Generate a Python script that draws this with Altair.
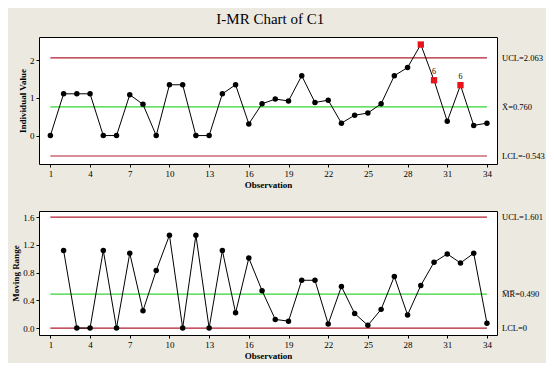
import altair as alt
import pandas as pd

# ---- data ----
observation = list(range(1, 35))
individual = [0.00, 1.11, 1.11, 1.11, 0.00, 0.00, 1.085, 0.83, 0.00, 1.35,
              1.35, 0.00, 0.00, 1.11, 1.35, 0.31, 0.845, 0.97, 0.92, 1.59,
              0.88, 0.94, 0.33, 0.54, 0.60, 0.845, 1.59, 1.81, 2.42, 1.47,
              0.38, 1.34, 0.27, 0.33]
flagged = [29, 30, 32]
flag_labels = {30: "6", 32: "6"}
moving_range = [None, 1.12, 0.00, 0.00, 1.12, 0.00, 1.08, 0.25, 0.83, 1.34,
                0.00, 1.34, 0.00, 1.12, 0.22, 1.01, 0.54, 0.125, 0.10, 0.69,
                0.69, 0.06, 0.60, 0.21, 0.04, 0.27, 0.745, 0.19, 0.615, 0.95,
                1.07, 0.94, 1.08, 0.07]

i_limits = [2.063, 0.760, -0.543]
i_limit_labels = ["UCL=2.063", "X\u0304=0.760", "LCL=-0.543"]
mr_limits = [1.601, 0.490, 0.0]
mr_limit_labels = ["UCL=1.601", "M\u0305R\u0305=0.490", "LCL=0"]
limit_colors = ["#B01E2E", "#33D633", "#B01E2E"]

x_ticks = list(range(1, 35, 3))
i_ticks = [0, 1, 2]
mr_ticks = [0.0, 0.4, 0.8, 1.2, 1.6]

FONT = "Liberation Serif"
W = 458
BG = "#ECE9E0"

x_first, x_last = observation[0], observation[-1]
x_scale = alt.Scale(domain=[0.14, 34.76], nice=False, zero=False)
x_axis = alt.Axis(values=x_ticks, title="Observation", grid=False,
                  format="d", labelOverlap=False)


def panel(values, limits, labels, ydomain, yticks, ytitle, yformat, height,
          flag_list, flag_text):
    df = pd.DataFrame({"obs": observation, "v": values})
    df["flag"] = df["obs"].isin(flag_list)
    df = df.dropna()
    lim = pd.DataFrame({"v": limits, "label": labels, "color": limit_colors,
                        "x1": x_first, "x2": x_last})
    yscale = alt.Scale(domain=ydomain, nice=False, zero=False)
    yaxis = alt.Axis(values=yticks, title=ytitle, grid=False, format=yformat,
                     labelOverlap=False, tickCount=len(yticks))

    def xy():
        return dict(x=alt.X("obs:Q", scale=x_scale, axis=x_axis),
                    y=alt.Y("v:Q", scale=yscale, axis=yaxis))

    rules = alt.Chart(lim).mark_rule(strokeWidth=1.2).encode(
        x=alt.X("x1:Q", scale=x_scale, axis=x_axis),
        x2="x2:Q",
        y=alt.Y("v:Q", scale=yscale, axis=yaxis),
        color=alt.Color("color:N", scale=None),
    )
    line = alt.Chart(df).mark_line(color="black", strokeWidth=1).encode(**xy())
    dots = alt.Chart(df[~df["flag"]]).mark_point(
        shape="circle", filled=True, color="black", size=30, opacity=1
    ).encode(**xy())
    layers = [rules, line, dots]
    if df["flag"].any():
        sq = alt.Chart(df[df["flag"]]).mark_point(
            shape="square", filled=True, color="#E8141C", size=40, opacity=1
        ).encode(**xy())
        layers.append(sq)
    if flag_text:
        ft = pd.DataFrame({"obs": list(flag_text.keys()),
                           "t": list(flag_text.values())})
        ft = ft.merge(df[["obs", "v"]], on="obs")
        txt = alt.Chart(ft).mark_text(font=FONT, fontSize=8, dy=-8,
                                      color="black").encode(text="t:N", **xy())
        layers.append(txt)
    right = alt.Chart(lim).mark_text(font=FONT, fontSize=8.5, align="left",
                                     baseline="middle", color="black").encode(
        x=alt.value(W + 5), y=alt.Y("v:Q", scale=yscale, axis=yaxis),
        text="label:N")
    layers.append(right)
    return alt.layer(*layers).properties(width=W, height=height)


top = panel(individual, i_limits, i_limit_labels, [-0.756, 2.62], i_ticks,
            "Individual Value", "d", 127, flagged, flag_labels)
bottom = panel(moving_range, mr_limits, mr_limit_labels, [-0.10, 1.69],
               mr_ticks, "Moving Range", ".1f", 124, [], {})

chart = alt.vconcat(top, bottom, spacing=20).properties(
    title=alt.TitleParams("I-MR Chart of C1", font=FONT, fontSize=15,
                          fontWeight="normal", anchor="middle", color="black",
                          offset=10, dx=-8),
    background=BG,
    padding={"left": 3, "top": 3, "right": 0, "bottom": 2},
).configure_view(
    stroke="black", strokeWidth=1, fill="white"
).configure_axis(
    labelFont=FONT, labelFontSize=9, labelColor="black", labelOverlap=False,
    titleFont=FONT, titleFontSize=9, titleFontWeight="bold", titleColor="black",
    tickColor="black", tickSize=3, domain=False, titlePadding=2, labelPadding=2,
)

chart.save("out.html", embed_options={"renderer": "svg", "actions": False})
